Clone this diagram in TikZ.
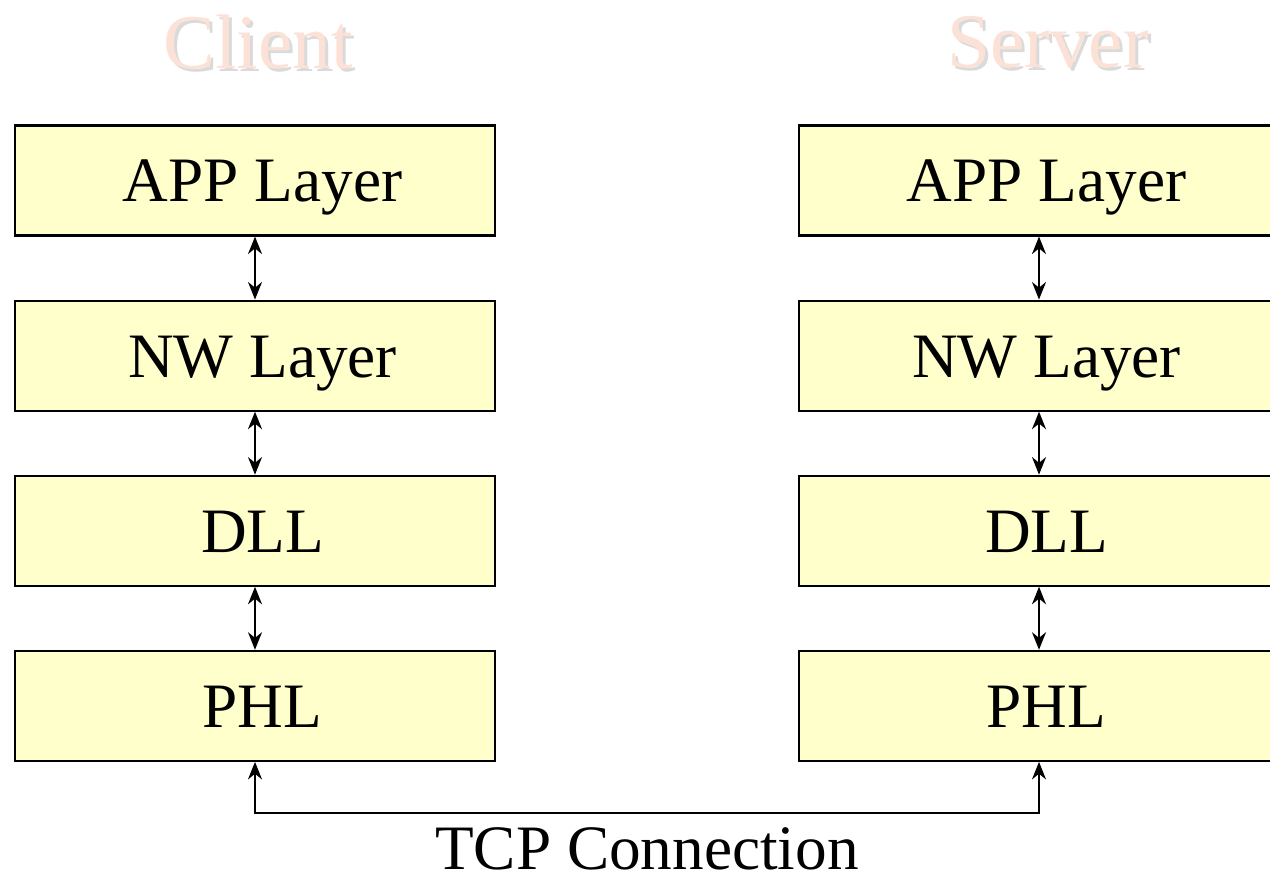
\documentclass[tikz,border=0pt]{standalone}
\usepackage{fontspec}
\setmainfont{Liberation Serif}
\usetikzlibrary{positioning, calc, arrows.meta}
\definecolor{layer}{HTML}{FFFFCC}
\definecolor{title}{HTML}{FCE2D6}
\definecolor{titleshadow}{HTML}{DADADA}

\begin{document}
\begin{tikzpicture}[
    >={Stealth[length=10pt, width=8pt]},
    node distance=1.26cm,
    layerbox/.style={
        draw,
        line width=1.2pt,
        fill=layer,
        minimum width=9.6cm,
        minimum height=2.2cm,
        inner sep=0pt,
        text height=1cm,
        text depth=0.14cm,
        execute at begin node={\hspace*{0.3cm}},
        font=\fontsize{36}{43}\selectfont
    },
    link/.style={<->, line width=1pt},
    heading/.style={font=\fontsize{44}{52}\selectfont, text=title},
    headshadow/.style={font=\fontsize{44}{52}\selectfont, text=titleshadow}
]
\useasboundingbox (0,0) rectangle (25.4,17.46);

% Titles
\node[headshadow] at (5.22,16.56) {Client};
\node[heading] (CT) at (5.16,16.62) {Client};
\node[headshadow] at (21.02,16.56) {Server};
\node[heading] (ST) at (20.96,16.62) {Server};

% Client stack
\node[layerbox] (CA) at (5.1,13.85) {APP Layer};
\node[layerbox, below=of CA] (CN) {NW Layer};
\node[layerbox, below=of CN] (CD) {DLL};
\node[layerbox, below=of CD] (CP) {PHL};

% Server stack
\node[layerbox] (SA) at (20.78,13.85) {APP Layer};
\node[layerbox, below=of SA] (SN) {NW Layer};
\node[layerbox, below=of SN] (SD) {DLL};
\node[layerbox, below=of SD] (SP) {PHL};

% Edges
\draw[link] (CA) -- (CN);
\draw[link] (CN) -- (CD);
\draw[link] (CD) -- (CP);
\draw[link] (SA) -- (SN);
\draw[link] (SN) -- (SD);
\draw[link] (SD) -- (SP);

% Connection
\coordinate[below=1.02cm of CP.south] (CL);
\draw[link] (CP.south) -- (CL) -| (SP.south)
    node[pos=0.25, below=0.16cm, font=\fontsize{36}{43}\selectfont] (TCP) {TCP Connection};

\end{tikzpicture}
\end{document}
